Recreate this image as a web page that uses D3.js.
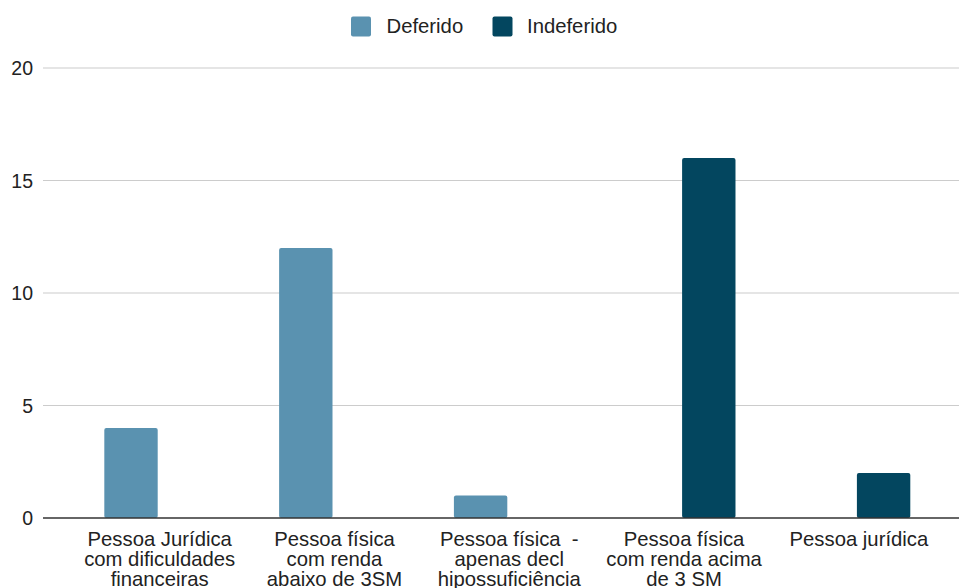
<!DOCTYPE html>
<html>
<head>
<meta charset="utf-8">
<script src="https://cdn.jsdelivr.net/npm/d3@7/dist/d3.min.js"></script>
<style>
  html, body { margin: 0; padding: 0; background: #fff; }
  svg { display: block; }
  text { font-family: "Liberation Sans", Arial, sans-serif; fill: #222; white-space: pre; }
</style>
</head>
<body>
<svg id="chart" width="959" height="588"></svg>
<script>
// Categories (each label split into lines) and series values
const categories = [
  ["Pessoa Jurídica", "com dificuldades", "financeiras"],
  ["Pessoa física", "com renda", "abaixo de 3SM"],
  ["Pessoa física  -", "apenas decl", "hipossuficiência"],
  ["Pessoa física", "com renda acima", "de 3 SM"],
  ["Pessoa jurídica"]
];
const seriesNames = ["Deferido", "Indeferido"];
const deferido = [4, 12, 1, 0, 0];
const indeferido = [0, 0, 0, 16, 2];
const yTicks = [0, 5, 10, 15, 20];
const colors = ["#5a92b0", "#03465f"];

const svg = d3.select("#chart");
const plotLeft = 43, plotRight = 959, plotTop = 68, plotBottom = 518;

const catKeys = categories.map((c, i) => i);
const x0 = d3.scaleBand().domain(catKeys).range([70.3, 944.3]).paddingInner(0).paddingOuter(0);
const x1 = d3.scaleBand().domain(seriesNames).range([0, x0.bandwidth()]).paddingInner(0).paddingOuter(0.637);
const y = d3.scaleLinear().domain([0, 20]).range([plotBottom, plotTop]);

// Gridlines
svg.append("g")
  .selectAll("line")
  .data(yTicks.filter(t => t !== 0))
  .join("line")
  .attr("x1", plotLeft).attr("x2", plotRight)
  .attr("y1", d => y(d)).attr("y2", d => y(d))
  .attr("stroke", "#cccccc").attr("stroke-width", 1.2);

// Y axis labels
const yAxis = d3.axisLeft(y).tickValues(yTicks).tickSize(0).tickPadding(0);
const yg = svg.append("g").attr("transform", `translate(33,0)`).call(yAxis);
yg.select(".domain").remove();
yg.selectAll("text")
  .attr("font-size", "19.5px")
  .attr("font-family", "Liberation Sans, Arial, sans-serif")
  .attr("fill", "#222")
  .attr("dy", "0.34em");

// Bars
const rows = catKeys.map(i => ({ i, values: [deferido[i], indeferido[i]] }));
const groups = svg.append("g")
  .selectAll("g")
  .data(rows)
  .join("g")
  .attr("transform", d => `translate(${x0(d.i)},0)`);

groups.selectAll("rect")
  .data(d => d.values.map((v, k) => ({ key: seriesNames[k], v, k })).filter(e => e.v > 0))
  .join("rect")
  .attr("x", d => x1(d.key))
  .attr("width", x1.bandwidth())
  .attr("y", d => y(d.v))
  .attr("height", d => y(0) - y(d.v))
  .attr("rx", 2)
  .attr("fill", d => colors[d.k]);

// Baseline
svg.append("line")
  .attr("x1", plotLeft).attr("x2", plotRight)
  .attr("y1", y(0)).attr("y2", y(0))
  .attr("stroke", "#333").attr("stroke-width", 1.5);

// Category labels
const xl = svg.append("g");
categories.forEach((lines, i) => {
  const cx = x0(i) + x0.bandwidth() / 2 + 2;
  const t = xl.append("text")
    .attr("text-anchor", "middle")
    .attr("font-size", "20.3px");
  lines.forEach((ln, j) => {
    t.append("tspan").attr("x", cx).attr("y", 545.5 + j * 20).text(ln);
  });
});

// Legend
const legend = svg.append("g");
const legendItems = [
  { name: seriesNames[0], color: colors[0], sx: 351, tx: 386.5 },
  { name: seriesNames[1], color: colors[1], sx: 492.5, tx: 527 }
];
legendItems.forEach(it => {
  legend.append("rect")
    .attr("x", it.sx).attr("y", 16.5).attr("width", 20).attr("height", 20)
    .attr("rx", 2).attr("fill", it.color);
  legend.append("text")
    .attr("x", it.tx).attr("y", 33)
    .attr("font-size", "20.3px")
    .text(it.name);
});
</script>
</body>
</html>
